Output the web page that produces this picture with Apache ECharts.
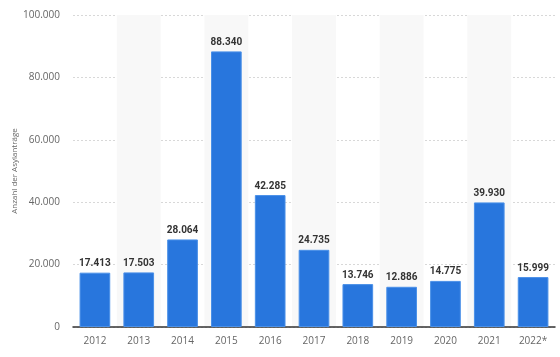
<!DOCTYPE html>
<html><head><meta charset="utf-8">
<script src="https://cdn.jsdelivr.net/npm/echarts@6/dist/echarts.min.js"></script>
<style>html,body{margin:0;padding:0;background:#fff}#c{width:560px;height:357px}</style>
</head><body><div id="c"></div>
<script>
const categories = ['2012','2013','2014','2015','2016','2017','2018','2019','2020','2021','2022*'];
const values = [17413,17503,28064,88340,42285,24735,13746,12886,14775,39930,15999];
const yTicks = [0,20000,40000,60000,80000,100000];
const fmt = v => String(v).replace(/\B(?=(\d{3})+(?!\d))/g, '.');
const chart = echarts.init(document.getElementById('c'), null, {renderer:'canvas'});
chart.setOption({
  animation:false,
  grid:{left:73,right:5,top:15,bottom:30,containLabel:false},
  xAxis:{type:'category',data:categories,
    axisLine:{lineStyle:{color:'#333',width:1.5}},axisTick:{show:false},
    axisLabel:{color:'#666',fontSize:10,fontFamily:'Open Sans, sans-serif',margin:9},
    splitArea:{show:true,areaStyle:{color:['rgba(255,255,255,0)','#f8f8f8']}}},
  yAxis:{type:'value',min:yTicks[0],max:yTicks[yTicks.length-1],interval:20000,
    name:'Anzahl der Asylanträge',nameLocation:'middle',nameGap:54,nameMoveOverlap:false,
    nameTextStyle:{color:'#666',fontSize:8,fontFamily:'Open Sans, sans-serif'},
    axisLabel:{color:'#666',fontSize:10,fontFamily:'Open Sans, sans-serif',margin:13,formatter:v=>fmt(v)},
    splitLine:{lineStyle:{color:'#d8d8d8',type:[2,2],width:1}},
    axisLine:{show:false},axisTick:{show:false}},
  series:[{type:'bar',data:values,barWidth:'70%',
    itemStyle:{color:'#2876dd',borderColor:'#4a90e8',borderWidth:1},
    label:{show:true,position:'top',distance:4,color:'#333',fontWeight:'bold',fontSize:10,
      fontFamily:'Roboto, sans-serif',formatter:p=>fmt(p.value)}}]
});
</script></body></html>
